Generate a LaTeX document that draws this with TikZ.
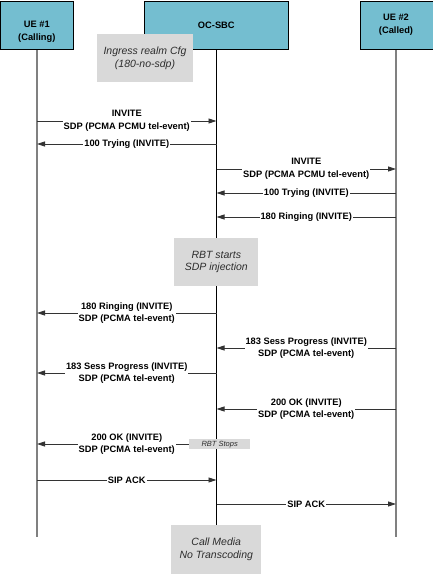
\documentclass[tikz,border=0pt]{standalone}
\usepackage{fontspec}
\setmainfont{Liberation Sans}
\usetikzlibrary{arrows.meta}
\definecolor{hdr}{RGB}{116,190,208}
\definecolor{note}{RGB}{217,217,217}
\definecolor{notetext}{RGB}{45,45,45}
\begin{document}
\begin{tikzpicture}[x=1pt,y=-1pt,
  hdrbox/.style={draw=black, line width=0.8pt, fill=hdr, inner sep=0, anchor=north west},
  hdrtext/.style={font=\fontsize{9.3}{12.7}\selectfont\bfseries, align=center, inner sep=0},
  notebox/.style={fill=note, inner sep=0, font=\fontsize{10.5}{12.7}\selectfont\itshape, text=notetext, align=center},
  msg/.style={draw=black!80, line width=0.8pt, -{Triangle[length=8pt,width=5pt]}},
  lbl/.style={fill=white, inner sep=1pt, font=\fontsize{9.3}{12.5}\selectfont\bfseries, align=center},
  life/.style={draw=black!50, line width=1.2pt},
  sbcline/.style={draw=black, line width=0.8pt}]
\useasboundingbox (0,0) rectangle (433,574);

% lifelines
\coordinate (ue1top) at (37,49);
\coordinate (ue1bot) at (37,537);
\coordinate (sbctop) at (216.5,49);
\coordinate (sbcbot) at (216.5,525);
\coordinate (ue2top) at (396,49);
\coordinate (ue2bot) at (396,537);
\draw[life] (ue1top) -- (ue1bot);
\draw[life] (ue2top) -- (ue2bot);
\draw[sbcline] (sbctop) -- (sbcbot);

% header boxes
\node[hdrbox, minimum width=72.5pt, minimum height=48pt] (ue1) at (0.5,1) {};
\node[hdrbox, minimum width=144pt, minimum height=48pt] (sbc) at (144.3,1) {};
\node[hdrbox, minimum width=73pt, minimum height=48pt] (ue2) at (359.5,1) {};
\node[hdrtext] (ue1t) at (36.8,31.5) {UE \#1\\(Calling)};
\node[hdrtext] (sbct) at (216.3,25.3) {OC-SBC};
\node[hdrtext] (ue2t) at (396,25) {UE \#2\\(Called)};

% ingress note
\node[notebox, minimum width=96pt, minimum height=48pt] (ingress) at (145,58) {Ingress realm Cfg\\(180-no-sdp)};

% message endpoints
\foreach \n/\y in {1/121,2/144,3/169,4/193,5/217,6/313,7/348,8/373,9/409,10/444,11/480,12/504}{
  \coordinate (L\n) at (37,\y);
  \coordinate (S\n) at (216.5,\y);
  \coordinate (R\n) at (396,\y);
}

\draw[msg] (L1) -- node[lbl] {INVITE\\SDP (PCMA PCMU tel-event)} (S1);
\draw[msg] (S2) -- node[lbl] {100 Trying (INVITE)} (L2);
\draw[msg] (S3) -- node[lbl] {INVITE\\SDP (PCMA PCMU tel-event)} (R3);
\draw[msg] (R4) -- node[lbl] {100 Trying (INVITE)} (S4);
\draw[msg] (R5) -- node[lbl] {180 Ringing (INVITE)} (S5);

% RBT starts note
\node[notebox, minimum width=84pt, minimum height=47.5pt] (rbt) at (216.3,262) {RBT starts\\SDP injection};

\draw[msg] (S6) -- node[lbl] {180 Ringing (INVITE)\\SDP (PCMA tel-event)} (L6);
\draw[msg] (R7) -- node[lbl] {183 Sess Progress (INVITE)\\SDP (PCMA tel-event)} (S7);
\draw[msg] (S8) -- node[lbl] {183 Sess Progress (INVITE)\\SDP (PCMA tel-event)} (L8);
\draw[msg] (R9) -- node[lbl] {200 OK (INVITE)\\SDP (PCMA tel-event)} (S9);
\draw[msg] (S10) -- node[lbl] {200 OK (INVITE)\\SDP (PCMA tel-event)} (L10);
\node[fill=note, inner sep=0, minimum width=61pt, minimum height=10.5pt, text=notetext,
      font=\fontsize{7.5}{9}\selectfont\itshape] (rbtstop) at (219.7,444.2) {RBT Stops};
\draw[msg] (L11) -- node[lbl] {SIP ACK} (S11);
\draw[msg] (S12) -- node[lbl] {SIP ACK} (R12);

% call media note
\node[notebox, minimum width=90pt, minimum height=49pt] (media) at (216.3,549.5) {Call Media\\No Transcoding};
\end{tikzpicture}
\end{document}
